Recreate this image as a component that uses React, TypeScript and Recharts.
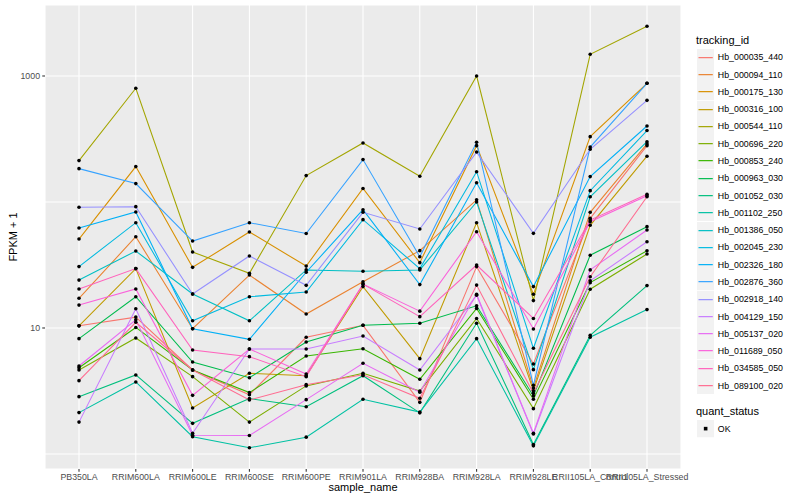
import { CartesianGrid, Line, LineChart, XAxis, YAxis } from "recharts";

const FONT = "'Liberation Sans', Arial, Helvetica, sans-serif";

const SAMPLES = [
  "PB350LA",
  "RRIM600LA",
  "RRIM600LE",
  "RRIM600SE",
  "RRIM600PE",
  "RRIM901LA",
  "RRIM928BA",
  "RRIM928LA",
  "RRIM928LE",
  "RRII105LA_Control",
  "RRII105LA_Stressed",
];

const TRACKING_IDS = [
  "Hb_000035_440",
  "Hb_000094_110",
  "Hb_000175_130",
  "Hb_000316_100",
  "Hb_000544_110",
  "Hb_000696_220",
  "Hb_000853_240",
  "Hb_000963_030",
  "Hb_001052_030",
  "Hb_001102_250",
  "Hb_001386_050",
  "Hb_002045_230",
  "Hb_002326_180",
  "Hb_002876_360",
  "Hb_002918_140",
  "Hb_004129_150",
  "Hb_005137_020",
  "Hb_011689_050",
  "Hb_034585_050",
  "Hb_089100_020",
];

// ggplot hue palette, 20 levels
const COLORS = [
  "#F8766D", "#EA8331", "#D89000", "#C09B00", "#A3A500",
  "#7CAE00", "#39B600", "#00BB4E", "#00BF7D", "#00C1A3",
  "#00BFC4", "#00BAE0", "#00B0F6", "#35A2FF", "#9590FF",
  "#C77CFF", "#E76BF3", "#FA62DB", "#FF62BC", "#FF6C91",
];

// FPKM + 1, one value per sample
const hb000035 = [10.4, 12.2, 4.64, 2.95, 8.44, 10.5, 2.57, 30.7, 5.18, 74.2, 280];
const hb000094 = [17.2, 53.0, 9.87, 26.3, 12.9, 23.3, 41.1, 104, 3.34, 82.8, 289];
const hb000175 = [50.8, 191, 30.3, 57.8, 31.0, 128, 33.0, 280, 18.5, 330, 875];
const hb000316 = [10.4, 29.6, 2.32, 4.37, 4.18, 21.3, 5.71, 68.5, 3.18, 65.3, 231];
const hb000544 = [213, 799, 40.1, 27.2, 162, 294, 160, 1000, 16.5, 1487, 2480];
const hb000696 = [4.64, 8.33, 4.11, 1.79, 3.47, 4.37, 3.16, 11.9, 2.29, 20.3, 38.7];
const hb000853 = [4.84, 10.1, 4.64, 3.07, 5.99, 6.85, 3.92, 14.3, 2.72, 22.9, 41.0];
const hb000963 = [8.23, 17.7, 5.37, 4.03, 7.74, 10.5, 10.9, 15.0, 2.89, 37.8, 63.7];
const hb001052 = [2.85, 4.24, 1.75, 2.75, 2.37, 4.18, 2.12, 10.9, 1.19, 8.75, 21.7];
const hb001102 = [2.13, 3.73, 1.37, 1.12, 1.36, 2.72, 2.15, 8.23, 1.16, 8.44, 14.0];
const hb001386 = [24.0, 40.8, 18.6, 11.4, 28.9, 28.2, 28.9, 100, 4.67, 110, 301];
const hb002045 = [30.7, 68.5, 11.4, 17.7, 19.3, 72.4, 29.6, 174, 6.9, 123, 369];
const hb002326 = [62.2, 83.3, 9.87, 8.13, 27.7, 86.9, 22.1, 142, 21.3, 159, 401];
const hb002876 = [184, 140, 49.0, 68.5, 56.2, 217, 36.8, 298, 3.51, 273, 875];
const hb002918 = [90.8, 91.8, 18.6, 37.3, 21.8, 82.8, 61.1, 249, 56.4, 262, 641];
const hb004129 = [1.79, 14.2, 1.46, 6.81, 6.81, 8.64, 4.64, 18.2, 1.44, 23.7, 48.4];
const hb005137 = [4.99, 11.6, 1.41, 1.4, 2.7, 5.25, 3.09, 18.5, 1.46, 28.9, 59.9];
const hb011689 = [15.2, 20.4, 2.92, 6.81, 4.31, 22.3, 13.6, 58.1, 9.82, 69.8, 112];
const hb034585 = [20.4, 29.6, 6.69, 5.92, 4.11, 22.3, 12.3, 31.6, 11.9, 71.9, 115];
const hb089100 = [3.82, 11.1, 4.64, 2.68, 3.55, 4.26, 2.77, 21.9, 3.03, 25.5, 110];

const SERIES_VALUES = [
  hb000035, hb000094, hb000175, hb000316, hb000544,
  hb000696, hb000853, hb000963, hb001052, hb001102,
  hb001386, hb002045, hb002326, hb002876, hb002918,
  hb004129, hb005137, hb011689, hb034585, hb089100,
];

const Y_TICKS = [10, 1000];
const Y_MINOR = [1, 100];
const Y_DOMAIN = [0.76, 3660];

const data = SAMPLES.map((sample, i) => {
  const row: Record<string, string | number> = { sample_name: sample };
  TRACKING_IDS.forEach((id, k) => {
    row[id] = SERIES_VALUES[k][i];
  });
  return row;
});

const tickStyle = { fill: "#4D4D4D", fontSize: 8.8, fontFamily: FONT };
const KEY = 17.28;

function Legend() {
  return (
    <div style={{ position: "absolute", left: 696, top: 0, fontFamily: FONT }}>
      <div style={{ position: "absolute", top: 34, left: 0, fontSize: 11, lineHeight: "13px", whiteSpace: "nowrap" }}>
        tracking_id
      </div>
      {TRACKING_IDS.map((id, i) => (
        <div
          key={id}
          style={{ position: "absolute", top: 48.7 + i * KEY, left: 1, height: KEY, display: "flex", alignItems: "center" }}
        >
          <svg width={KEY} height={KEY} style={{ display: "block" }}>
            <rect width={KEY} height={KEY} fill="#F2F2F2" />
            <line x1={1.5} x2={KEY - 1.5} y1={KEY / 2} y2={KEY / 2} stroke={COLORS[i]} strokeWidth={1.2} />
          </svg>
          <span style={{ marginLeft: 3.6, fontSize: 8.8, whiteSpace: "nowrap", color: "#000" }}>{id}</span>
        </div>
      ))}
      <div style={{ position: "absolute", top: 405, left: 0, fontSize: 11, lineHeight: "13px", whiteSpace: "nowrap" }}>
        quant_status
      </div>
      <div style={{ position: "absolute", top: 420.4, left: 1, height: KEY, display: "flex", alignItems: "center" }}>
        <svg width={KEY} height={KEY} style={{ display: "block" }}>
          <rect width={KEY} height={KEY} fill="#F2F2F2" />
          <rect x={KEY / 2 - 1.8} y={KEY / 2 - 1.8} width={3.6} height={3.6} fill="#000" />
        </svg>
        <span style={{ marginLeft: 3.6, fontSize: 8.8, whiteSpace: "nowrap" }}>OK</span>
      </div>
    </div>
  );
}

export default function App() {
  return (
    <div style={{ position: "absolute", left: 0, top: 0, width: 800, height: 500, background: "#FFFFFF" }}>
      <LineChart
        width={800}
        height={500}
        data={data}
        margin={{ top: 5, right: 119, bottom: 0, left: 0 }}
      >
        <CartesianGrid fill="#EBEBEB" fillOpacity={1} stroke="#FFFFFF" strokeWidth={1.07} />
        {/* minor grid lines at 1 and 100 */}
        <CartesianGrid stroke="#FFFFFF" strokeWidth={1.07} vertical={false} horizontalValues={Y_MINOR} />
        <XAxis
          dataKey="sample_name"
          scale="point"
          padding={{ left: 34, right: 34 }}
          height={31}
          interval={0}
          axisLine={false}
          tickSize={2.75}
          tickMargin={2.2}
          tickLine={{ stroke: "#333333", strokeWidth: 1.07 }}
          tick={tickStyle}
        />
        <YAxis
          scale="log"
          domain={Y_DOMAIN}
          allowDataOverflow
          ticks={Y_TICKS}
          width={45}
          axisLine={false}
          tickSize={2.75}
          tickMargin={2.2}
          tickLine={{ stroke: "#333333", strokeWidth: 1.07 }}
          tick={tickStyle}
        />
        {TRACKING_IDS.map((id, i) => (
          <Line
            key={id}
            type="linear"
            dataKey={id}
            stroke={COLORS[i]}
            strokeWidth={1.07}
            dot={false}
            activeDot={false}
            isAnimationActive={false}
          />
        ))}
        {TRACKING_IDS.map((id) => (
          <Line
            key={id + "-pts"}
            type="linear"
            dataKey={id}
            stroke="none"
            legendType="none"
            dot={{ r: 1.8, fill: "#000000", stroke: "none" }}
            activeDot={false}
            isAnimationActive={false}
          />
        ))}
      </LineChart>
      <div
        style={{
          position: "absolute",
          left: 45,
          width: 636,
          top: 481,
          textAlign: "center",
          fontFamily: FONT,
          fontSize: 11,
          lineHeight: "13px",
        }}
      >
        sample_name
      </div>
      <div
        style={{
          position: "absolute",
          left: 13 - 60,
          top: 237 - 7,
          width: 120,
          height: 14,
          textAlign: "center",
          fontFamily: FONT,
          fontSize: 11,
          lineHeight: "14px",
          transform: "rotate(-90deg)",
        }}
      >
        FPKM + 1
      </div>
      <Legend />
    </div>
  );
}
